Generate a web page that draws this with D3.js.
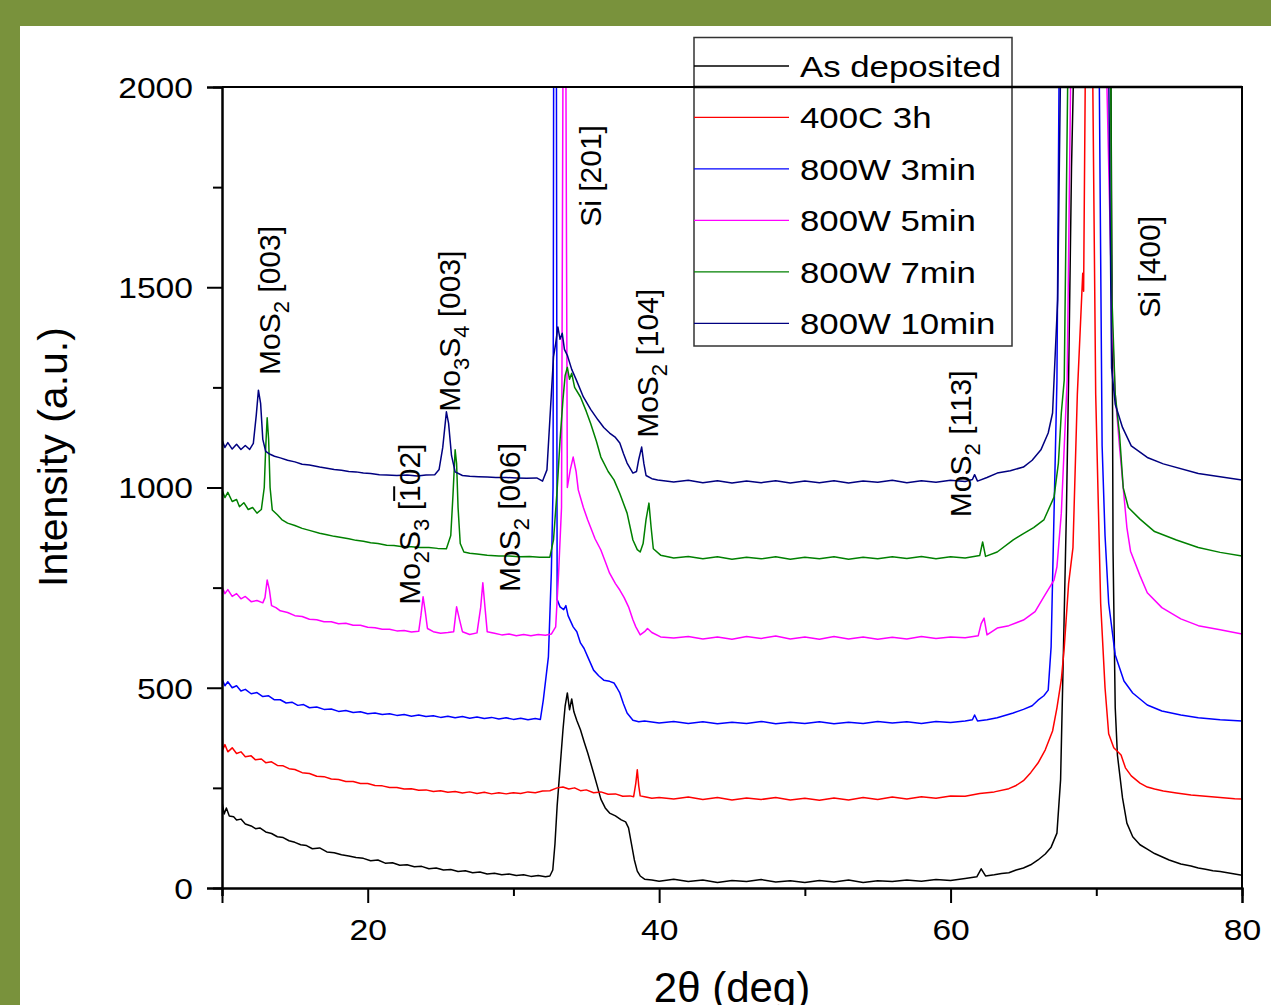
<!DOCTYPE html>
<html><head><meta charset="utf-8">
<script src="https://cdn.jsdelivr.net/npm/d3@7"></script>
<style>
body{margin:0;background:#79923c;}
svg{display:block}
text{font-family:"Liberation Sans",Arial,sans-serif;fill:#000}
</style>
</head><body>
<svg id="chart" width="1271" height="1005"></svg>
<script>
// ---------- DATA ----------
const seriesNames = ["As deposited","400C 3h","800W 3min","800W 5min","800W 7min","800W 10min"];
const seriesColors = ["#000000","#ff0000","#0000ff","#ff00ff","#008000","#000080"];

const asDeposited = [[10.0,215],[10.15,185],[10.3,200],[10.5,180],[10.8,178],[11.0,170],[11.3,172],[11.6,160],[12.0,155],[12.3,148],[12.6,150],[13.0,140],[13.4,136],[13.8,128],[14.2,126],[14.6,118],[15.0,114],[15.4,108],[15.8,106],[16.2,98],[16.7,100],[17.2,90],[17.7,88],[18.2,83],[18.7,80],[19.2,76],[19.7,74],[20.2,68],[20.7,70],[21.2,62],[21.7,63],[22.2,57],[22.7,58],[23.2,53],[23.7,54],[24.2,48],[24.7,50],[25.2,45],[25.7,46],[26.2,41],[26.7,43],[27.2,38],[27.7,40],[28.2,35],[28.7,37],[29.2,33],[29.7,35],[30.2,31],[30.7,33],[31.2,29],[31.7,31],[32.2,28],[32.5,30],[32.7,45],[32.85,110],[33.0,205],[33.2,300],[33.4,395],[33.55,455],[33.7,487],[33.85,445],[34.0,472],[34.15,440],[34.35,418],[34.6,395],[34.85,365],[35.1,337],[35.3,312],[35.5,287],[35.75,255],[36.0,222],[36.3,200],[36.6,187],[37.0,180],[37.4,170],[37.7,165],[37.9,150],[38.1,110],[38.3,70],[38.5,42],[38.7,30],[39.0,22],[39.5,20],[40,17],[41,22],[42,16],[43,20],[44,14],[45,19],[46,16],[47,21],[48,15],[49,18],[50,14],[51,19],[52,15],[53,20],[54,14],[55,18],[56,16],[57,20],[58,17],[59,21],[60,19],[61,24],[61.8,28],[62.1,48],[62.4,30],[63,33],[63.5,36],[64,38],[64.5,45],[65,50],[65.5,58],[66,70],[66.5,85],[66.9,102],[67.3,137],[67.55,270],[67.75,600],[67.95,940],[68.1,1270],[68.3,1800],[68.45,2050],[69.7,5000],[71.0,2050],[71.1,1366],[71.15,841],[71.3,450],[71.45,332],[71.8,225],[72.1,162],[72.5,128],[73,108],[73.5,97],[74,86],[74.5,78],[75,70],[75.8,60],[76.5,55],[77,50],[77.5,47],[78,43],[78.5,41],[79,38],[79.5,35],[80,32]];

const annealed400C = [[10.0,395],[10.05,345],[10.2,358],[10.4,340],[10.7,350],[11.0,336],[11.3,340],[11.6,328],[12.0,330],[12.3,320],[12.7,322],[13.0,313],[13.4,315],[13.8,306],[14.2,305],[14.6,298],[15.0,296],[15.5,288],[16.0,286],[16.5,279],[17.0,278],[17.5,272],[18.0,271],[18.5,266],[19.0,266],[19.5,261],[20.0,261],[20.5,256],[21.0,255],[21.5,251],[22.0,251],[22.5,247],[23.0,248],[23.5,244],[24.0,245],[24.5,241],[25.0,243],[25.5,239],[26.0,241],[26.5,237],[27.0,240],[27.5,236],[28.0,239],[28.5,235],[29.0,238],[29.5,235],[30.0,238],[30.5,236],[31.0,240],[31.5,238],[32.0,242],[32.5,243],[33.0,250],[33.4,252],[33.8,247],[34.2,250],[34.6,243],[35.0,245],[35.5,238],[36.0,240],[36.5,234],[37.0,235],[37.5,229],[38.0,230],[38.25,228],[38.4,262],[38.5,295],[38.6,255],[38.7,230],[39.0,228],[39.5,224],[40,226],[41,222],[42,227],[43,221],[44,226],[45,220],[46,225],[47,221],[48,226],[49,220],[50,224],[51,219],[52,225],[53,220],[54,226],[55,221],[56,227],[57,222],[58,228],[59,224],[60,230],[61,229],[62,236],[63,240],[64,248],[64.5,256],[65,268],[65.5,288],[66,312],[66.5,345],[67.0,392],[67.3,450],[67.6,520],[67.8,600],[68.1,760],[68.4,850],[68.7,1233],[69.07,1535],[69.13,1490],[69.25,2050],[69.5,5000],[69.75,2050],[69.96,1233],[70.3,711],[70.6,500],[70.85,385],[71.2,350],[71.7,332],[72.0,300],[72.4,280],[73,262],[73.5,252],[74,247],[74.6,242],[75.5,237],[76.5,232],[77.5,229],[78.5,226],[79.5,223],[80,222]];

const mw3min = [[10.0,522],[10.2,505],[10.4,515],[10.7,500],[11.0,505],[11.3,492],[11.6,496],[12.0,485],[12.4,488],[12.8,478],[13.2,480],[13.6,470],[14.0,470],[14.4,462],[14.8,464],[15.2,456],[15.6,458],[16.0,450],[16.5,452],[17.0,446],[17.5,447],[18.0,441],[18.5,443],[19.0,438],[19.5,440],[20.0,435],[20.5,437],[21.0,433],[21.5,435],[22.0,431],[22.5,433],[23.0,429],[23.5,432],[24.0,428],[24.5,430],[25.0,426],[25.5,429],[26.0,425],[26.5,428],[27.0,424],[27.5,427],[28.0,423],[28.5,426],[29.0,422],[29.5,425],[30.0,421],[30.5,424],[31.0,420],[31.5,423],[31.85,421],[32.05,469],[32.4,577],[32.6,786],[32.72,1000],[32.76,2050],[32.85,5000],[32.95,2050],[33.0,720],[33.2,702],[33.45,695],[33.6,705],[33.75,680],[34.1,652],[34.35,640],[34.6,612],[34.85,598],[35.1,577],[35.5,544],[35.85,530],[36.2,519],[36.6,516],[36.9,512],[37.1,500],[37.3,487],[37.55,460],[37.8,437],[38.2,419],[38.6,415],[39,417],[40,412],[41,416],[42,411],[43,415],[44,410],[45,414],[46,411],[47,416],[48,410],[49,414],[50,411],[51,415],[52,410],[53,414],[54,411],[55,416],[56,412],[57,415],[58,411],[59,416],[60,413],[61,417],[61.5,420],[61.65,432],[61.85,417],[62.5,420],[63.2,425],[64.3,437],[65,446],[65.6,455],[66.0,469],[66.4,480],[66.7,494],[66.9,602],[67.1,936],[67.3,1268],[67.45,2050],[69,5000],[70.2,2050],[70.4,1104],[70.6,880],[70.85,711],[71.3,582],[71.9,517],[72.5,487],[73.5,457],[74.5,442],[75.8,432],[77,425],[78.5,420],[80,417]];

const mw5min = [[10.0,752],[10.2,735],[10.4,745],[10.7,728],[11.0,735],[11.3,722],[11.6,728],[12.0,715],[12.4,718],[12.8,712],[12.95,725],[13.1,769],[13.25,745],[13.4,705],[13.7,700],[14.0,692],[14.5,688],[15.0,680],[15.5,678],[16.0,671],[16.5,670],[17.0,665],[17.5,665],[18.0,660],[18.5,661],[19.0,656],[19.5,656],[20.0,651],[20.5,650],[21.0,646],[21.5,646],[22.0,642],[22.5,643],[23.0,639],[23.5,641],[23.65,680],[23.8,727],[23.95,690],[24.1,648],[24.5,640],[25.0,636],[25.5,638],[25.9,640],[26.1,702],[26.3,670],[26.5,640],[27.0,633],[27.5,637],[27.75,700],[27.9,762],[28.05,700],[28.2,640],[28.7,636],[29.2,632],[29.7,634],[30.2,630],[30.7,633],[31.2,630],[31.7,633],[32.2,631],[32.6,634],[32.9,652],[33.1,786],[33.3,950],[33.4,2050],[33.5,5000],[33.6,2050],[33.7,1000],[33.9,1044],[34.1,1076],[34.3,1040],[34.45,994],[34.8,950],[35.1,919],[35.6,872],[36.0,844],[36.3,815],[36.6,786],[37.0,760],[37.3,744],[37.6,725],[37.9,702],[38.2,670],[38.4,652],[38.7,632],[39.0,640],[39.2,648],[39.5,638],[40.1,627],[41,624],[42,628],[43,622],[44,627],[45,621],[46,628],[47,623],[48,629],[49,622],[50,627],[51,621],[52,628],[53,622],[54,627],[55,621],[56,626],[57,622],[58,628],[59,623],[60,627],[61,625],[61.9,630],[62.1,660],[62.3,674],[62.5,632],[63.2,649],[64,655],[65,669],[65.8,690],[66.4,727],[67.1,769],[67.3,802],[67.6,936],[67.8,1101],[68.0,1268],[68.25,2050],[69.8,5000],[70.7,2050],[71.1,1400],[71.3,1233],[71.6,1100],[71.85,999],[72.1,900],[72.35,841],[73,780],[73.5,737],[74.5,700],[75.8,672],[77,655],[78.5,645],[80,634]];

const mw7min = [[10.0,994],[10.2,975],[10.4,988],[10.7,965],[11.0,970],[11.2,952],[11.5,962],[11.8,945],[12.1,950],[12.4,936],[12.7,945],[12.9,1000],[13.0,1100],[13.1,1174],[13.2,1120],[13.3,1000],[13.45,944],[13.8,932],[14.1,920],[14.5,911],[15.0,905],[15.5,898],[16.0,893],[16.7,886],[17.2,882],[17.7,878],[18.2,875],[18.7,872],[19.2,868],[19.7,866],[20.2,862],[20.7,860],[21.3,856],[21.8,855],[22.4,852],[23.0,852],[23.6,850],[24.2,850],[24.8,848],[25.4,847],[25.7,880],[25.85,980],[26.0,1094],[26.1,1060],[26.2,950],[26.35,860],[26.6,839],[27.0,836],[27.5,834],[28.2,831],[29.0,829],[29.7,829],[30.4,827],[31.1,828],[31.8,826],[32.5,826],[32.75,869],[33.0,994],[33.2,1119],[33.4,1220],[33.55,1280],[33.7,1300],[33.85,1270],[34.0,1285],[34.2,1250],[34.6,1226],[35.0,1190],[35.3,1160],[35.7,1115],[36.0,1076],[36.5,1040],[36.9,1019],[37.3,985],[37.8,936],[38.2,869],[38.5,845],[38.7,839],[38.9,860],[39.1,920],[39.3,961],[39.45,900],[39.6,847],[40.1,831],[41,824],[42,828],[43,822],[44,827],[45,821],[46,826],[47,822],[48,827],[49,821],[50,826],[51,822],[52,827],[53,821],[54,826],[55,822],[56,827],[57,823],[58,828],[59,822],[60,827],[61,824],[62.0,830],[62.2,864],[62.4,828],[63.2,839],[64.3,869],[65,885],[65.7,900],[66.4,919],[67.1,976],[67.4,1061],[67.6,1186],[67.8,1268],[68.05,2050],[69.9,5000],[71.0,2050],[71.05,1500],[71.3,1233],[71.6,1130],[71.85,999],[72.2,950],[73.0,921],[74,890],[75.5,869],[77,850],[78.5,838],[80,829]];

const mw10min = [[10.0,1119],[10.2,1100],[10.4,1112],[10.7,1096],[11.0,1108],[11.3,1095],[11.6,1105],[11.9,1095],[12.15,1110],[12.35,1180],[12.5,1243],[12.65,1210],[12.8,1120],[13.0,1090],[13.3,1083],[13.6,1078],[14.0,1074],[14.5,1068],[15.0,1064],[15.5,1058],[16.0,1056],[16.7,1051],[17.2,1048],[17.7,1045],[18.2,1043],[18.7,1040],[19.2,1039],[19.7,1036],[20.2,1035],[20.8,1032],[21.3,1031],[22.0,1030],[22.7,1031],[23.4,1029],[24.0,1031],[24.6,1032],[24.9,1045],[25.15,1100],[25.4,1189],[25.55,1160],[25.75,1080],[26.0,1039],[26.5,1030],[27.0,1028],[27.6,1027],[28.2,1026],[28.8,1025],[29.5,1025],[30.2,1024],[30.9,1023],[31.6,1024],[32.0,1016],[32.3,1044],[32.5,1169],[32.75,1326],[32.9,1360],[33.05,1401],[33.2,1370],[33.35,1385],[33.5,1345],[33.7,1330],[34.0,1295],[34.3,1270],[34.8,1226],[35.3,1195],[35.8,1169],[36.2,1150],[36.6,1136],[37.0,1125],[37.3,1111],[37.55,1085],[37.8,1061],[38.2,1036],[38.45,1040],[38.6,1070],[38.8,1101],[38.95,1060],[39.1,1030],[39.5,1022],[39.9,1019],[41,1014],[42,1018],[43,1012],[44,1017],[45,1011],[46,1016],[47,1012],[48,1017],[49,1011],[50,1016],[51,1012],[52,1017],[53,1011],[54,1016],[55,1013],[56,1018],[57,1012],[58,1017],[59,1013],[60,1018],[61,1015],[61.5,1020],[61.65,1032],[61.85,1016],[62.5,1025],[63.2,1036],[64.1,1042],[65,1051],[65.6,1068],[66.2,1094],[66.7,1136],[67.0,1186],[67.1,1268],[67.35,1468],[67.55,2050],[69.6,5000],[70.85,2050],[71.05,1298],[71.3,1208],[71.8,1150],[72.4,1104],[73.5,1075],[74.6,1059],[77,1035],[80,1019]];

const seriesData = [asDeposited, annealed400C, mw3min, mw5min, mw7min, mw10min];

const xMajorTicks = [20,40,60,80];
const xMinorTicks = [10,30,50,70];
const yMajorTicks = [0,500,1000,1500,2000];
const yMinorTicks = [250,750,1250,1750];

// peak annotations: parts = [text, kind] kind 0 normal, 1 subscript, 2 overlined
const peakLabels = [
  {parts:[["MoS",0],["2",1],[" [003]",0]], x:13.98, y:1281},
  {parts:[["Mo",0],["3",1],["S",0],["4",1],[" [003]",0]], x:26.35, y:1189},
  {parts:[["Mo",0],["2",1],["S",0],["3",1],[" [",0],["1",2],["02]",0]], x:23.6, y:707},
  {parts:[["MoS",0],["2",1],[" [006]",0]], x:30.47, y:739},
  {parts:[["Si [201]",0]], x:36.03, y:1651},
  {parts:[["MoS",0],["2",1],[" [104]",0]], x:39.95, y:1124},
  {parts:[["MoS",0],["2",1],[" [113]",0]], x:61.37, y:926},
  {parts:[["Si [400]",0]], x:74.35, y:1424}
];

// ---------- LAYOUT ----------
const svg = d3.select("#chart");
const L = 222, R = 1242, T = 87, B = 888;
const x = d3.scaleLinear().domain([10,80]).range([L,R]);
const y = d3.scaleLinear().domain([0,2000]).range([B,T]);

svg.append("rect").attr("x",20).attr("y",26).attr("width",1251).attr("height",979).attr("fill","#fff");

svg.append("defs").append("clipPath").attr("id","clip")
  .append("rect").attr("x",L).attr("y",T).attr("width",R-L).attr("height",B-T);

const line = d3.line().x(d=>x(d[0])).y(d=>y(d[1]));
const plot = svg.append("g").attr("clip-path","url(#clip)");
seriesData.forEach((s,i)=>{
  plot.append("path").datum(s).attr("d",line).attr("fill","none")
    .attr("stroke",seriesColors[i]).attr("stroke-width",1.5).attr("stroke-linejoin","round");
});

// legend
const lg = svg.append("g");
lg.append("rect").attr("x",694).attr("y",37.5).attr("width",318).attr("height",308.5)
  .attr("fill","#fff").attr("stroke","#333").attr("stroke-width",1.5);
const legY = d3.scaleLinear().domain([0,5]).range([66,323.3]);
seriesNames.forEach((n,i)=>{
  lg.append("line").attr("x1",694).attr("x2",789).attr("y1",legY(i)).attr("y2",legY(i))
    .attr("stroke",seriesColors[i]).attr("stroke-width",1.3);
  lg.append("text").attr("transform",`translate(800,${legY(i)+10.8}) scale(1.16,1)`)
    .attr("font-size",30).text(n);
});

// axes
const tickFont = 29, sx = 1.16;
const xAxis = svg.append("g").attr("transform",`translate(0,${B})`)
  .call(d3.axisBottom(x).tickValues(xMajorTicks).tickSize(15).tickPadding(0).tickFormat(d3.format("d")));
svg.append("g").attr("transform",`translate(0,${B})`)
  .call(d3.axisBottom(x).tickValues(xMinorTicks).tickSize(8).tickFormat(""));
const yAxis = svg.append("g").attr("transform",`translate(${L},0)`)
  .call(d3.axisLeft(y).tickValues(yMajorTicks).tickSize(15).tickFormat(d3.format("d")));
svg.append("g").attr("transform",`translate(${L},0)`)
  .call(d3.axisLeft(y).tickValues(yMinorTicks).tickSize(9).tickFormat(""));
svg.selectAll(".domain").attr("stroke","#000").attr("stroke-width",2);
svg.selectAll(".tick line").attr("stroke","#000").attr("stroke-width",2);

xAxis.selectAll(".tick text").attr("font-size",tickFont).attr("font-family",null)
  .attr("y",null).attr("dy",null)
  .attr("transform",`translate(0,52) scale(${sx},1)`);
yAxis.selectAll(".tick text").attr("font-size",tickFont).attr("font-family",null)
  .attr("x",null).attr("dy","0.36em")
  .attr("transform",`translate(-29,0) scale(${sx},1)`);
svg.selectAll(".tick text").attr("fill","#000");

// frame top and right
svg.append("line").attr("x1",L).attr("x2",R+1).attr("y1",T).attr("y2",T).attr("stroke","#000").attr("stroke-width",2);
svg.append("line").attr("x1",R).attr("x2",R).attr("y1",T).attr("y2",B).attr("stroke","#000").attr("stroke-width",2);
svg.append("line").attr("x1",694).attr("x2",R).attr("y1",T).attr("y2",T).attr("stroke","#000").attr("stroke-width",2.5);

// axis titles
svg.append("text").attr("transform","translate(67,457) rotate(-90)")
  .attr("text-anchor","middle").attr("font-size",41).text("Intensity (a.u.)");
svg.append("text").attr("x",732).attr("y",1002).attr("text-anchor","middle")
  .attr("font-size",42).text("2\u03b8 (deg)");

// peak labels
peakLabels.forEach(p=>{
  const g = svg.append("g").attr("transform",`translate(${x(p.x)},${y(p.y)}) rotate(-90)`);
  const t = g.append("text").attr("font-size",30);
  let sub=false;
  const overl = [];
  p.parts.forEach(([s,kind])=>{
    const ts = t.append("tspan").text(s);
    if(kind===1){
      ts.attr("font-size",22);
      if(!sub){ ts.attr("dy",9); sub=true; }
    } else {
      if(sub){ ts.attr("dy",-9); sub=false; }
      if(kind===2) overl.push(ts);
    }
  });
  overl.forEach(ts=>{
    const n = ts.node();
    const a = n.getStartPositionOfChar(0), b = n.getEndPositionOfChar(n.getNumberOfChars()-1);
    g.append("line").attr("x1",a.x+1).attr("x2",b.x-1).attr("y1",-26).attr("y2",-26)
      .attr("stroke","#000").attr("stroke-width",2);
  });
});
</script>
</body></html>
